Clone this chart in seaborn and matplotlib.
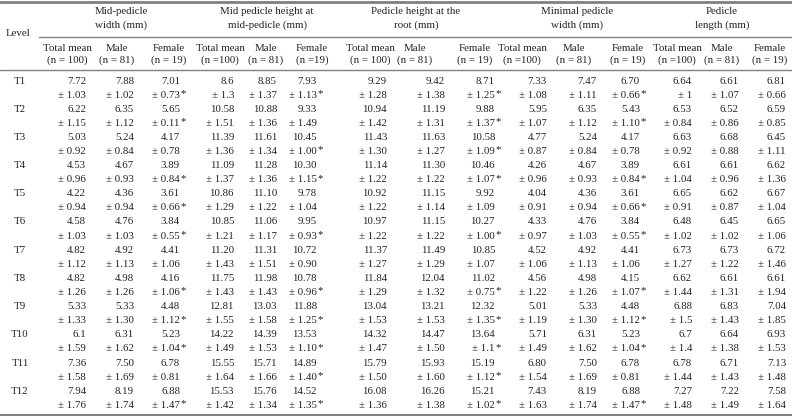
import matplotlib
matplotlib.use("Agg")
import matplotlib.pyplot as plt
import seaborn as sns

# row labels
levels = ["T1", "T2", "T3", "T4", "T5", "T6", "T7", "T8", "T9", "T10", "T11", "T12"]

# group headers and sub headers
groups = ["Mid-pedicle\nwidth (mm)", "Mid pedicle height at\nmid-pedicle (mm)",
          "Pedicle height at the\nroot (mm)", "Minimal pedicle\nwidth (mm)",
          "Pedicle\nlength (mm)"]
subheads = ["Total mean\n(n = 100)", "Male\n(n = 81)", "Female\n(n = 19)",
            "Total mean\n(n =100)", "Male\n(n = 81)", "Female\n(n =19)",
            "Total mean\n(n = 100)", "Male\n(n = 81)", "Female\n(n = 19)",
            "Total mean\n(n =100)", "Male\n(n = 81)", "Female\n(n = 19)",
            "Total mean\n(n =100)", "Male\n(n = 81)", "Female\n(n = 19)"]

# Mid-pedicle width
mpw_total = ["7.72", "6.22", "5.03", "4.53", "4.22", "4.58", "4.82", "4.82", "5.33", "6.1", "7.36", "7.94"]
mpw_total_sd = ["1.03", "1.15", "0.92", "0.96", "0.94", "1.03", "1.12", "1.26", "1.33", "1.59", "1.58", "1.76"]
mpw_male = ["7.88", "6.35", "5.24", "4.67", "4.36", "4.76", "4.92", "4.98", "5.33", "6.31", "7.50", "8.19"]
mpw_male_sd = ["1.02", "1.12", "0.84", "0.93", "0.94", "1.03", "1.13", "1.26", "1.30", "1.62", "1.69", "1.74"]
mpw_female = ["7.01", "5.65", "4.17", "3.89", "3.61", "3.84", "4.41", "4.16", "4.48", "5.23", "6.78", "6.88"]
mpw_female_sd = ["0.73*", "0.11*", "0.78", "0.84*", "0.66*", "0.55*", "1.06", "1.06*", "1.12*", "1.04*", "0.81", "1.47*"]

# Mid pedicle height at mid-pedicle
mph_total = ["8.6", "10.58", "11.39", "11.09", "10.86", "10.85", "11.20", "11.75", "12.81", "14.22", "15.55", "15.53"]
mph_total_sd = ["1.3", "1.51", "1.36", "1.37", "1.29", "1.21", "1.43", "1.43", "1.55", "1.49", "1.64", "1.42"]
mph_male = ["8.85", "10.88", "11.61", "11.28", "11.10", "11.06", "11.31", "11.98", "13.03", "14.39", "15.71", "15.76"]
mph_male_sd = ["1.37", "1.36", "1.34", "1.36", "1.22", "1.17", "1.51", "1.43", "1.58", "1.53", "1.66", "1.34"]
mph_female = ["7.93", "9.33", "10.45", "10.30", "9.78", "9.95", "10.72", "10.78", "11.88", "13.53", "14.89", "14.52"]
mph_female_sd = ["1.13*", "1.49", "1.00*", "1.15*", "1.04", "0.93*", "0.90", "0.96*", "1.25*", "1.10*", "1.40*", "1.35*"]

# Pedicle height at the root
phr_total = ["9.29", "10.94", "11.43", "11.14", "10.92", "10.97", "11.37", "11.84", "13.04", "14.32", "15.79", "16.08"]
phr_total_sd = ["1.28", "1.42", "1.30", "1.22", "1.22", "1.22", "1.27", "1.29", "1.53", "1.47", "1.50", "1.36"]
phr_male = ["9.42", "11.19", "11.63", "11.30", "11.15", "11.15", "11.49", "12.04", "13.21", "14.47", "15.93", "16.26"]
phr_male_sd = ["1.38", "1.31", "1.27", "1.22", "1.14", "1.22", "1.29", "1.32", "1.53", "1.50", "1.60", "1.38"]
phr_female = ["8.71", "9.88", "10.58", "10.46", "9.92", "10.27", "10.85", "11.02", "12.32", "13.64", "15.19", "15.21"]
phr_female_sd = ["1.25*", "1.37*", "1.09*", "1.07*", "1.09", "1.00*", "1.07", "0.75*", "1.35*", "1.1*", "1.12*", "1.02*"]

# Minimal pedicle width
mnw_total = ["7.33", "5.95", "4.77", "4.26", "4.04", "4.33", "4.52", "4.56", "5.01", "5.71", "6.80", "7.43"]
mnw_total_sd = ["1.08", "1.07", "0.87", "0.96", "0.91", "0.97", "1.06", "1.22", "1.19", "1.49", "1.54", "1.63"]
mnw_male = ["7.47", "6.35", "5.24", "4.67", "4.36", "4.76", "4.92", "4.98", "5.33", "6.31", "7.50", "8.19"]
mnw_male_sd = ["1.11", "1.12", "0.84", "0.93", "0.94", "1.03", "1.13", "1.26", "1.30", "1.62", "1.69", "1.74"]
mnw_female = ["6.70", "5.43", "4.17", "3.89", "3.61", "3.84", "4.41", "4.15", "4.48", "5.23", "6.78", "6.88"]
mnw_female_sd = ["0.66*", "1.10*", "0.78", "0.84*", "0.66*", "0.55*", "1.06", "1.07*", "1.12*", "1.04*", "0.81", "1.47*"]

# Pedicle length
pl_total = ["6.64", "6.53", "6.63", "6.61", "6.65", "6.48", "6.73", "6.62", "6.88", "6.7", "6.78", "7.27"]
pl_total_sd = ["1", "0.84", "0.92", "1.04", "0.91", "1.02", "1.27", "1.44", "1.5", "1.4", "1.44", "1.48"]
pl_male = ["6.61", "6.52", "6.68", "6.61", "6.62", "6.45", "6.73", "6.61", "6.83", "6.64", "6.71", "7.22"]
pl_male_sd = ["1.07", "0.86", "0.88", "0.96", "0.87", "1.02", "1.22", "1.31", "1.43", "1.38", "1.43", "1.49"]
pl_female = ["6.81", "6.59", "6.45", "6.62", "6.67", "6.65", "6.72", "6.61", "7.04", "6.93", "7.13", "7.58"]
pl_female_sd = ["0.66", "0.85", "1.11", "1.36", "1.04", "1.06", "1.46", "1.94", "1.85", "1.53", "1.48", "1.64"]

means = [mpw_total, mpw_male, mpw_female, mph_total, mph_male, mph_female,
         phr_total, phr_male, phr_female, mnw_total, mnw_male, mnw_female,
         pl_total, pl_male, pl_female]
sds = [mpw_total_sd, mpw_male_sd, mpw_female_sd, mph_total_sd, mph_male_sd, mph_female_sd,
       phr_total_sd, phr_male_sd, phr_female_sd, mnw_total_sd, mnw_male_sd, mnw_female_sd,
       pl_total_sd, pl_male_sd, pl_female_sd]

sns.set_theme(style="white")
plt.rcParams['font.family'] = ['Liberation Serif', 'DejaVu Serif']

# layout (pixel units)
col_right = [86, 134, 180, 234, 277, 317, 387, 445, 495, 547, 597, 640, 692, 739, 786]
sub_center = [67, 117, 169, 220, 266, 312, 370, 415, 475, 522, 574, 628, 677, 722, 770]
group_center = [121, 267, 416, 577, 722]
row0, pitch = 81, 14.1
fs = 7.8
ink = "#222222"
rule = "#808080"

fig = plt.figure(figsize=(7.92, 4.2), dpi=100)
ax = fig.add_axes([0, 0, 1, 1])
ax.set_xlim(0, 792)
ax.set_ylim(420, 0)
ax.axis("off")

# rules
ax.plot([0, 792], [2, 2], color=rule, lw=2.0)
ax.plot([39, 792], [37, 37], color=rule, lw=1.0)
ax.plot([0, 792], [70, 70], color=rule, lw=1.0)
ax.plot([0, 792], [415, 415], color=rule, lw=1.5)

# headers
ax.text(18, 33, "Level", ha="center", va="center", fontsize=fs, color=ink)
for g, xc in zip(groups, group_center):
    ax.text(xc, 18.5, g, ha="center", va="center", fontsize=fs, color=ink, linespacing=1.5)
for s, xc in zip(subheads, sub_center):
    ax.text(xc, 54.5, s, ha="center", va="center", fontsize=fs, color=ink, linespacing=1.45)

# body
for i, lev in enumerate(levels):
    y = row0 + 2 * i * pitch
    ax.text(20, y, lev, ha="center", va="center", fontsize=fs, color=ink)
    for j in range(len(means)):
        xr = col_right[j]
        ax.text(xr, y, means[j][i], ha="right", va="center", fontsize=fs, color=ink)
        sd = sds[j][i]
        star = sd.endswith("*")
        ax.text(xr, y + pitch, "± " + sd.rstrip("*"), ha="right", va="center", fontsize=fs, color=ink)
        if star:
            ax.text(xr + 0.5, y + pitch - 1.5, "*", ha="left", va="center", fontsize=fs, color=ink)

fig.savefig("out.png", dpi=100)
